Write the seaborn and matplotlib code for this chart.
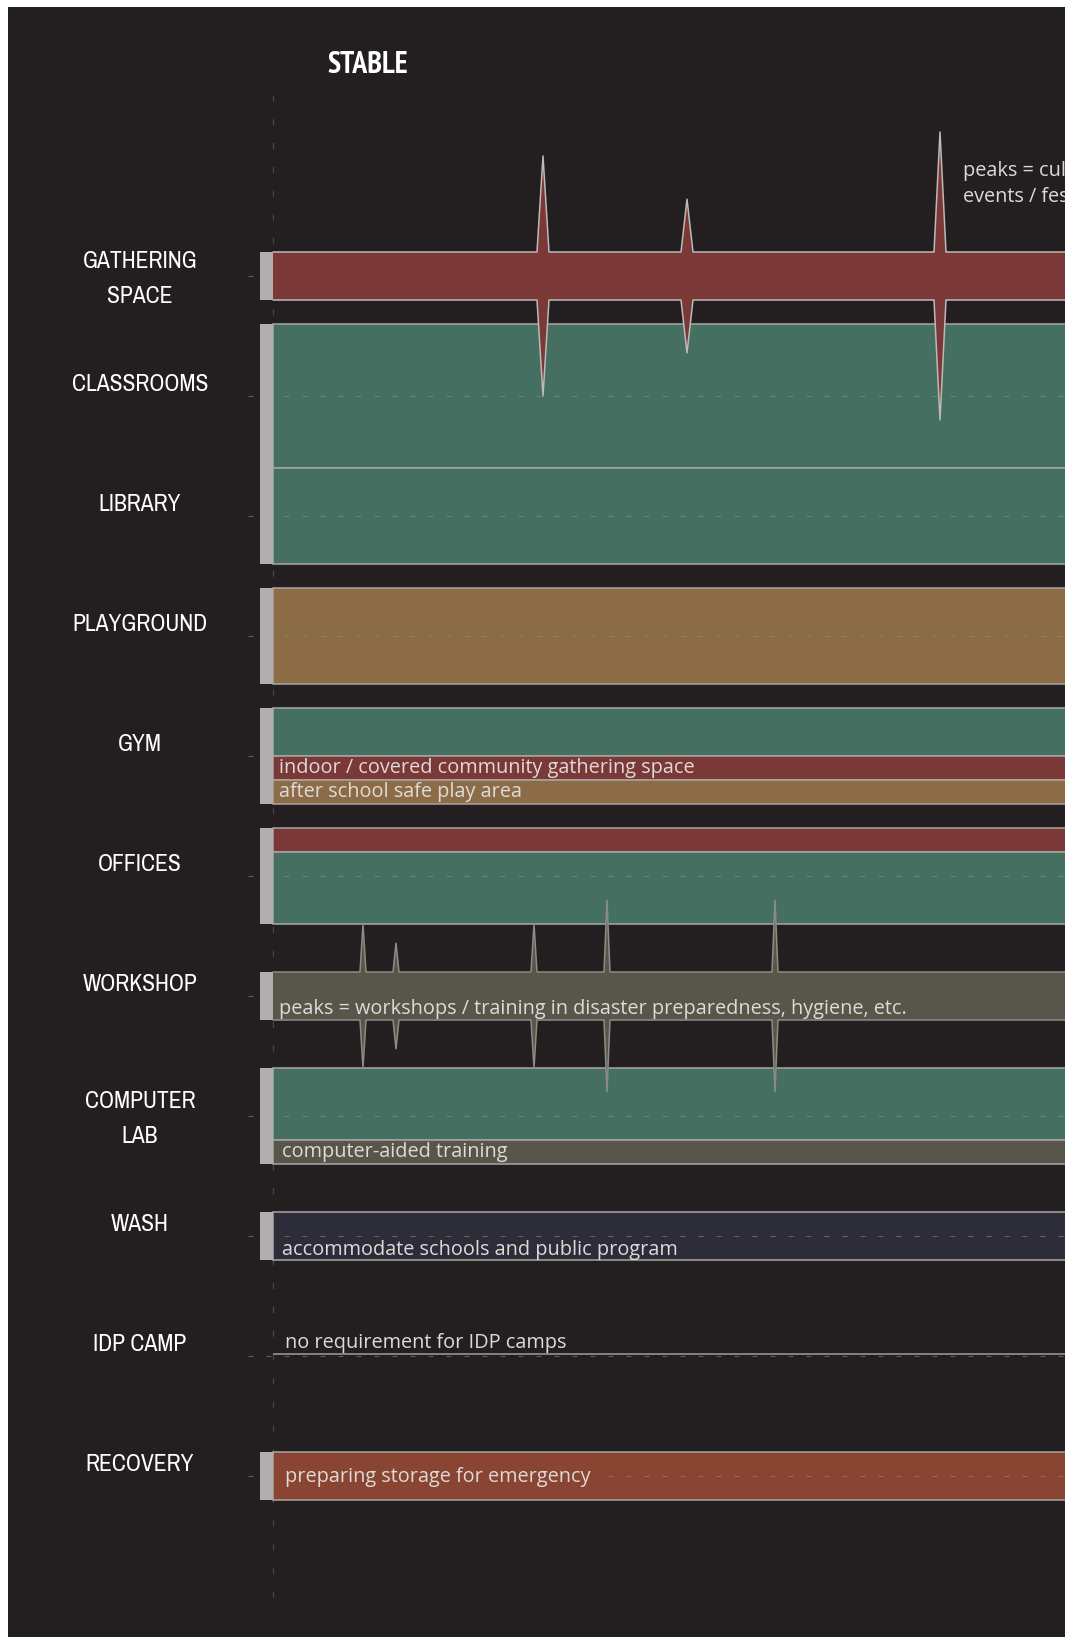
import numpy as np
import matplotlib
matplotlib.use("Agg")
import matplotlib.pyplot as plt
from matplotlib import font_manager as fm
import seaborn as sns

# ---------------- data ----------------
programs = ["GATHERING\nSPACE", "CLASSROOMS", "LIBRARY", "PLAYGROUND", "GYM",
            "OFFICES", "WORKSHOP", "COMPUTER\nLAB", "WASH", "IDP CAMP", "RECOVERY"]
# stacked use-bands per program (top to bottom) and their intensity (units)
segment_types = [["gathering"], ["learning"], ["learning"], ["play"],
                 ["learning", "gathering", "play"], ["gathering", "learning"],
                 ["training"], ["learning", "training"], ["wash"], [], ["recovery"]]
segment_sizes = [[2], [6], [4], [4], [2, 1, 1], [1, 3], [2], [3, 1], [2], [], [2]]

# event peaks (time position, extra intensity)
gathering_peak_t = [27.0, 41.4, 66.7]
gathering_peak_h = [4.0, 2.2, 5.0]
workshop_peak_t = [9.0, 12.3, 26.1, 33.4, 50.2]
workshop_peak_h = [2.0, 1.2, 2.0, 3.0, 3.0]

notes = ["indoor / covered community gathering space", "after school safe play area",
         "peaks = workshops / training in disaster preparedness, hygiene, etc.",
         "computer-aided training", "accommodate schools and public program",
         "no requirement for IDP camps", "preparing storage for emergency"]
note_rows = [4, 4, 6, 7, 8, 9, 10]
phase_title = "STABLE"
peak_note = "peaks = cultural\nevents / festivals"

# ---------------- style ----------------
BG = "#231f20"
colors = {"gathering": "#7a3836", "learning": "#446f61", "play": "#8c6c46",
          "training": "#58554a", "wash": "#2d2c39", "recovery": "#8a4532"}
EDGE = "#a9a6a5"
CAP = "#b1aeae"
TXT = "#dedad8"

sns.set_theme(style="dark", rc={"axes.facecolor": BG, "figure.facecolor": "white"})
plt.rcParams["font.family"] = ["Open Sans", "DejaVu Sans"]


def find_condensed(bold=False):
    cands = []
    for f in fm.fontManager.ttflist:
        name = f.name + " " + f.fname
        isb = (f.weight in ("bold", 700, "heavy", 800)) or "Bold" in f.fname
        if isb != bold or "Oblique" in f.fname or "Italic" in f.fname:
            continue
        if "Narrow" in name:
            cands.append((0, f.fname))
        elif "Condensed" in name or f.stretch in ("condensed", "semi-condensed"):
            cands.append((1, f.fname))
    if cands:
        cands.sort()
        return fm.FontProperties(fname=cands[0][1]), True
    return fm.FontProperties(family="Roboto", weight="bold" if bold else "normal"), False


label_fp, label_cond = find_condensed(False)
title_fp, _ = find_condensed(True)

W, H = 1065, 1637
fig = plt.figure(figsize=(W / 100, H / 100), dpi=100)
ax = fig.add_axes([8 / W, 0, 1 - 8 / W, 1 - 7 / H])
ax.set_facecolor(BG)
for s in ax.spines.values():
    s.set_visible(False)
ax.set_xticks([])
ax.set_yticks([])
ax.grid(False)

PX = 10.0      # px per time unit
RPX = 120.0    # px per row
U = 24.0 / RPX  # row units per intensity unit
x0 = 273
y0 = 276
ax.set_xlim((8 - x0) / PX, (W - x0) / PX)
ax.set_ylim((H - y0) / RPX, (7 - y0) / RPX)
END = 200
LW = 1.1

# vertical phase line
ax.vlines(0, (95 - y0) / RPX, (1613 - y0) / RPX, color="#4a4647", lw=0.9,
          linestyles=(0, (5, 14)), zorder=1)

# row grid lines
rows = np.arange(len(programs))
ax.hlines(rows, -2.5, END, color="#8f8c8b", lw=0.72, alpha=0.6,
          linestyles=(0, (5, 13)), zorder=5)


def peaked(center, size, pt, ph, width, color, edge, z):
    xs, ex = [0.0], [0.0]
    for t, h in sorted(zip(pt, ph)):
        xs += [t - width / 2, t, t + width / 2]
        ex += [0.0, h, 0.0]
    xs.append(END)
    ex.append(0.0)
    xs, ex = np.array(xs), np.array(ex)
    top = center - (size / 2 + ex) * U
    bot = center + (size / 2 + ex) * U
    ax.fill_between(xs, top, bot, color=color, lw=0, zorder=z)
    ax.plot(xs, top, color=edge, lw=LW, zorder=z + 0.1)
    ax.plot(xs, bot, color=edge, lw=LW, zorder=z + 0.1)


for i, (types, sizes) in enumerate(zip(segment_types, segment_sizes)):
    total = sum(sizes)
    if total == 0:
        ax.hlines(i - 0.015, 0, END, color="#8d8a89", lw=1.3, zorder=3)
        continue
    if i == 0:
        peaked(i, total, gathering_peak_t, gathering_peak_h, 1.2,
               colors[types[0]], "#bdb9b8", 6)
    elif i == 6:
        peaked(i, total, workshop_peak_t, workshop_peak_h, 0.6,
               colors[types[0]], "#8e8b86", 6)
    else:
        top = i - total * U / 2
        for t, s in zip(types, sizes):
            ax.barh(top + s * U / 2, END, left=0, height=s * U, color=colors[t],
                    edgecolor=EDGE, lw=LW, zorder=2)
            top += s * U
    ax.barh(i, 1.3, left=-1.3, height=total * U, color=CAP, lw=0, zorder=7)

# program labels
lab_size = 17 if label_cond else 15
for i, lab in enumerate(programs):
    off = 0.025 if "\n" in lab else -0.095
    fp = label_fp.copy()
    fp.set_size(lab_size)
    ax.text((140 - x0) / PX, i + off, lab, ha="center", va="center", color="white",
            fontproperties=fp, linespacing=1.85, zorder=8)

# phase title
tfp = title_fp.copy()
tfp.set_size(21.5 if label_cond else 18)
ax.text((368 - x0) / PX, (65 - y0) / RPX, phase_title, ha="center", va="center",
        color="white", fontproperties=tfp)

# notes
note_px_y = [768, 792, 1009, 1152, 1250, 1353, 1477]
note_px_x = [279, 279, 279, 282, 282, 285, 285]
for txt, r, py, pxx in zip(notes, note_rows, note_px_y, note_px_x):
    kw = dict(ha="left", va="center", color=TXT, fontsize=14.3, zorder=8)
    if r == 9:
        kw["va"] = "bottom"
    if r == 10:
        kw["bbox"] = dict(boxstyle="square,pad=0.2", fc=colors["recovery"], ec="none")
    ax.text((pxx - x0) / PX, (py - y0) / RPX, txt, **kw)

ax.text((963 - x0) / PX, (184 - y0) / RPX, peak_note, ha="left", va="center",
        color=TXT, fontsize=14.3, linespacing=1.45, zorder=8)

fig.savefig("out.png", dpi=100, facecolor="white")
